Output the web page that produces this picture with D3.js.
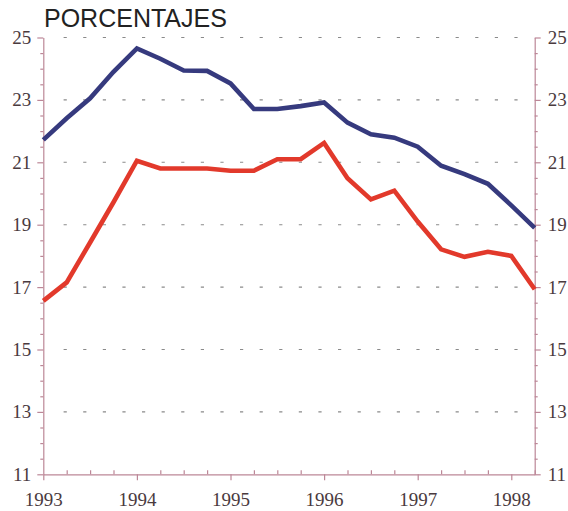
<!DOCTYPE html>
<html>
<head>
<meta charset="utf-8">
<script src="https://cdn.jsdelivr.net/npm/d3@7/dist/d3.min.js"></script>
<style>
  html, body { margin: 0; padding: 0; background: #ffffff; }
  svg { display: block; }
  .axis text { font-family: "Liberation Serif", "DejaVu Serif", serif; font-size: 19px; }
</style>
</head>
<body>
<svg id="chart" width="568" height="511"></svg>
<script>
// Quarterly observations, 1993 Q1 to 1998 Q2
const periods = [1993, 1993.25, 1993.5, 1993.75, 1994, 1994.25, 1994.5, 1994.75,
                 1995, 1995.25, 1995.5, 1995.75, 1996, 1996.25, 1996.5, 1996.75,
                 1997, 1997.25, 1997.5, 1997.75, 1998, 1998.25];

const blueSeries = [21.72, 22.41, 23.05, 23.9, 24.65, 24.32, 23.94, 23.93,
                    23.53, 22.71, 22.71, 22.8, 22.92, 22.27, 21.9, 21.79,
                    21.5, 20.89, 20.62, 20.31, 19.62, 18.9];

const redSeries = [16.56, 17.15, 18.43, 19.72, 21.05, 20.8, 20.8, 20.8,
                   20.73, 20.73, 21.1, 21.1, 21.62, 20.49, 19.81, 20.09,
                   19.1, 18.21, 17.97, 18.13, 18.0, 16.93];

const yTicks = [11, 13, 15, 17, 19, 21, 23, 25];
const yearTicks = [1993, 1994, 1995, 1996, 1997, 1998];
const titleText = "PORCENTAJES";

const svg = d3.select("#chart");

const x = d3.scaleLinear().domain([1993, 1998.25]).range([43.3, 534.7]);
const y = d3.scaleLinear().domain([11, 25]).range([474.3, 37.5]);

const axisColor = "#bc8797";
const labelColor = "#4a3a3e";

// dotted horizontal guides
svg.append("g")
  .selectAll("line")
  .data(yTicks.filter(d => d > 11))
  .join("line")
  .attr("x1", 63.6)
  .attr("x2", 520)
  .attr("y1", d => y(d))
  .attr("y2", d => y(d))
  .attr("stroke", "#8a8a8a")
  .attr("stroke-width", 1.1)
  .attr("stroke-dasharray", "3.2 16.4");

const minorY = d3.range(11, 25.01, 0.5).filter(v => !yTicks.includes(v));
const quarters = d3.range(1993, 1998.26, 0.25).filter(v => !yearTicks.includes(v));

function styleAxis(g) {
  g.attr("class", "axis").attr("font-family", null).attr("font-size", null);
  g.selectAll("path.domain").attr("stroke", axisColor).attr("stroke-width", 1.2);
  g.selectAll(".tick line").attr("stroke", axisColor).attr("stroke-width", 1.2);
  g.selectAll(".tick text").attr("fill", labelColor);
}

// left axis: labelled majors and short minors
svg.append("g")
  .attr("transform", `translate(${x(1993)},0)`)
  .call(d3.axisLeft(y).tickValues(yTicks).tickSize(6).tickSizeOuter(0).tickPadding(6)
        .tickFormat(d3.format("d")))
  .call(styleAxis);
svg.append("g")
  .attr("transform", `translate(${x(1993)},0)`)
  .call(d3.axisLeft(y).tickValues(minorY).tickSize(3).tickSizeOuter(0).tickFormat(""))
  .call(g => g.select("path.domain").remove())
  .call(styleAxis);

// right axis
svg.append("g")
  .attr("transform", `translate(${x(1998.25)},0)`)
  .call(d3.axisRight(y).tickValues(yTicks).tickSize(6).tickSizeOuter(0).tickPadding(7)
        .tickFormat(d3.format("d")))
  .call(styleAxis);
svg.append("g")
  .attr("transform", `translate(${x(1998.25)},0)`)
  .call(d3.axisRight(y).tickValues(minorY).tickSize(3).tickSizeOuter(0).tickFormat(""))
  .call(g => g.select("path.domain").remove())
  .call(styleAxis);

// bottom axis: years below, quarter marks pointing up
svg.append("g")
  .attr("transform", `translate(0,${y(11)})`)
  .call(d3.axisBottom(x).tickValues(yearTicks).tickSize(6).tickSizeOuter(0).tickPadding(12)
        .tickFormat(d3.format("d")))
  .call(styleAxis);
svg.append("g")
  .attr("transform", `translate(0,${y(11)})`)
  .call(d3.axisTop(x).tickValues(quarters).tickSize(4).tickSizeOuter(0).tickFormat(""))
  .call(g => g.select("path.domain").remove())
  .call(styleAxis);

// series lines
const line = d3.line().x((d, i) => x(periods[i])).y(d => y(d));

svg.append("path")
  .datum(redSeries)
  .attr("d", line)
  .attr("fill", "none")
  .attr("stroke", "#e2392b")
  .attr("stroke-width", 4.6)
  .attr("stroke-linejoin", "miter");

svg.append("path")
  .datum(blueSeries)
  .attr("d", line)
  .attr("fill", "none")
  .attr("stroke", "#363a7e")
  .attr("stroke-width", 4.6)
  .attr("stroke-linejoin", "miter");

// title
svg.append("text")
  .attr("x", 44)
  .attr("y", 27)
  .attr("fill", "#222222")
  .style("font-family", "'Liberation Sans', Arial, sans-serif")
  .style("font-size", "25px")
  .text(titleText);
</script>
</body>
</html>
